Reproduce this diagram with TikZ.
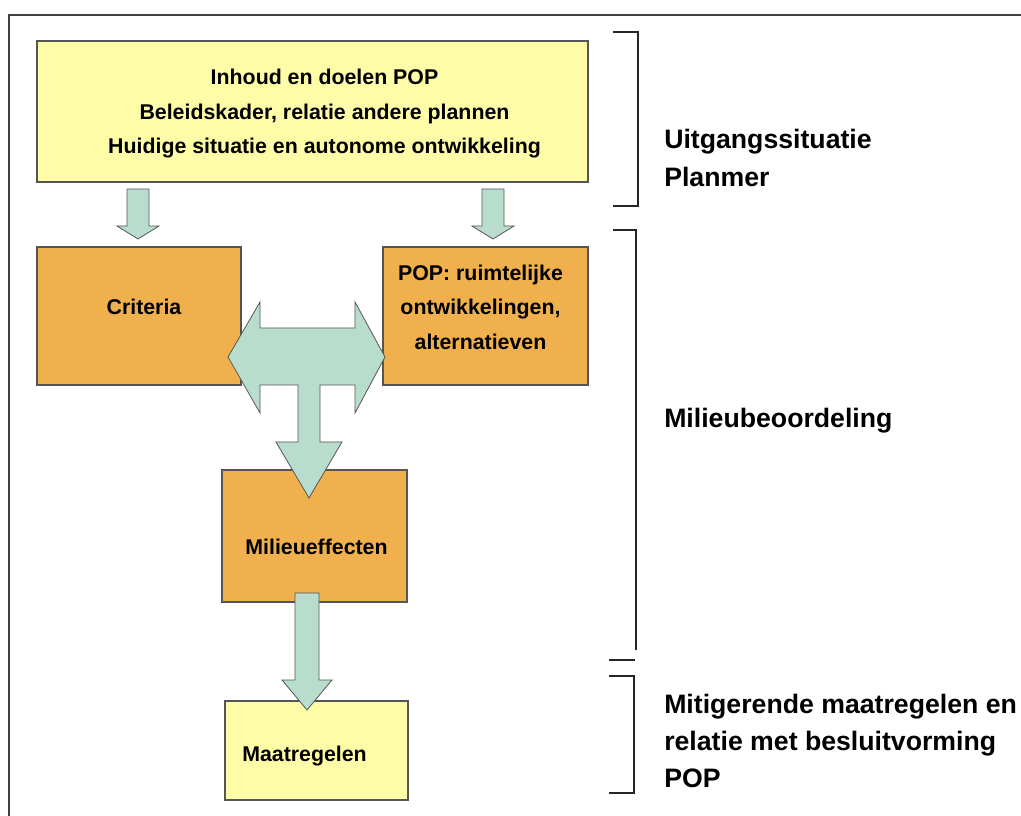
\documentclass[tikz,border=0pt]{standalone}
\usepackage{fontspec}
\setmainfont{Liberation Sans}
\usepackage{tikz}
\usetikzlibrary{positioning, calc}

\definecolor{boxyellow}{HTML}{FFFCA8}
\definecolor{boxorange}{HTML}{F0B04E}
\definecolor{arrowteal}{HTML}{B9DDCD}
\definecolor{edgegray}{HTML}{555555}

% down block arrow: centre x, top y, head base y, tip y, shaft half width, head half width
\newcommand{\downblock}[6]{%
  \filldraw[blockarr] ({#1-#5},#2) -- ({#1+#5},#2) -- ({#1+#5},#3) -- ({#1+#6},#3)
    -- (#1,#4) -- ({#1-#6},#3) -- ({#1-#5},#3) -- cycle;}

\begin{document}
\begin{tikzpicture}[x=0.75pt, y=-0.75pt,
    ybox/.style={draw=edgegray, line width=0.8pt, fill=boxyellow, inner sep=0pt},
    obox/.style={ybox, fill=boxorange},
    boxtext/.style={align=center, inner sep=0pt, text depth=0pt,
      font=\fontsize{16}{26}\selectfont\bfseries},
    blockarr/.style={draw=edgegray, line width=0.6pt, fill=arrowteal, line join=miter},
    brack/.style={line width=1.5pt, black!85},
    sidelabel/.style={anchor=west, align=left, inner sep=0pt,
      font=\fontsize{20}{28}\selectfont\bfseries}]
    \useasboundingbox (0,0) rectangle (1021,816);

    % frame
    \draw[line width=1.3pt, black!75] (9,816) -- (9,15) -- (1021,15);

    % boxes
    \node[ybox, minimum width=413.25pt, minimum height=105.75pt] (top) at (312.5,111.5) {};
    \node[obox, minimum width=153pt, minimum height=103.5pt] (crit) at (139,316) {};
    \node[obox, minimum width=153.75pt, minimum height=103.5pt] (pop) at (485.5,316) {};
    \node[obox, minimum width=138.75pt, minimum height=99pt] (eff) at (314.5,536) {};
    \node[ybox, minimum width=137.25pt, minimum height=74.25pt] (maat) at (316.5,750.5) {};

    % box texts
    \node[boxtext] (top-t) at ($(top.center)+(12,0)$)
      {Inhoud en doelen POP\\ Beleidskader, relatie andere plannen\\
       Huidige situatie en autonome ontwikkeling};
    \node[boxtext] (crit-t) at ($(crit.center)+(5,-9)$) {Criteria};
    \node[boxtext] (pop-t) at ($(pop.center)+(-5,-9)$)
      {POP: ruimtelijke\\ ontwikkelingen,\\ alternatieven};
    \node[boxtext] (eff-t) at ($(eff.center)+(2,11)$) {Milieueffecten};
    \node[boxtext] (maat-t) at ($(maat.center)+(-12,3)$) {Maatregelen};

    % arrows
    \downblock{138}{189}{226}{239}{11}{21}
    \downblock{493}{189}{226}{239}{11}{21}
    \filldraw[blockarr] (228,357) -- (260,302) -- (260,328) -- (355,328) -- (355,302)
      -- (385,357) -- (355,413) -- (355,385) -- (320,385) -- (320,442) -- (342,442)
      -- (309,498) -- (276,442) -- (298,442) -- (298,385) -- (260,385) -- (260,413) -- cycle;
    \downblock{307}{593}{680}{710}{12}{25}

    % brackets
    \draw[brack] (613,32) -- (638,32) -- (638,206) -- (613,206);
    \draw[brack] (613,230) -- (636,230) -- (636,650);
    \draw[brack] (609,660) -- (635,660);
    \draw[brack] (609,676) -- (634,676) -- (634,793) -- (609,793);

    % labels
    \node[sidelabel] (lab1) at (664,158) {Uitgangssituatie\\Planmer};
    \node[sidelabel] (lab2) at (664,421) {Milieubeoordeling};
    \node[sidelabel] (lab3) at (664,741) {Mitigerende maatregelen en\\relatie met besluitvorming\\POP};
\end{tikzpicture}
\end{document}
